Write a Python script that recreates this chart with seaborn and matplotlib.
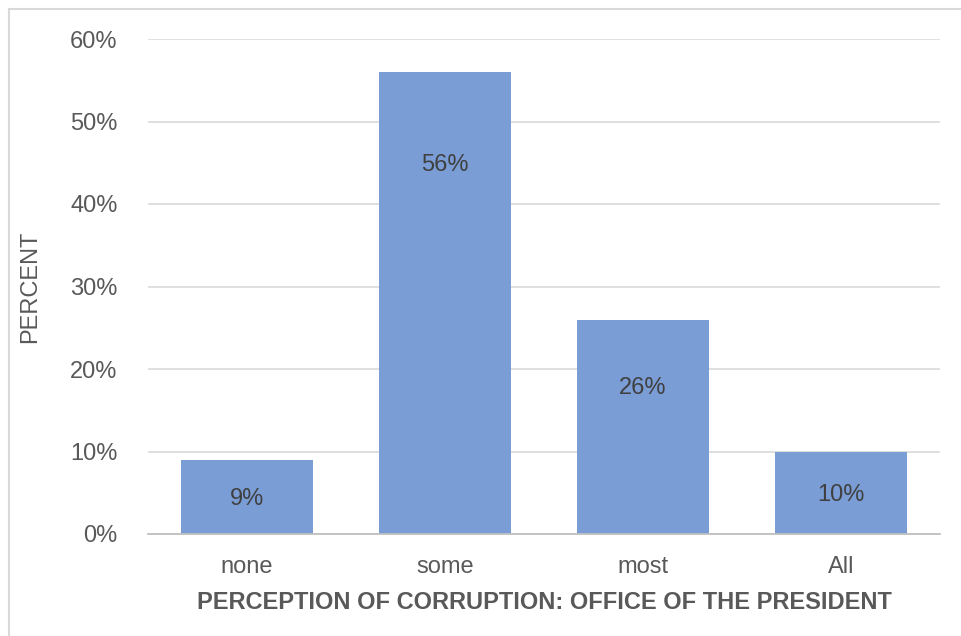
import matplotlib
matplotlib.use("Agg")
import matplotlib.pyplot as plt
import seaborn as sns
import pandas as pd
from matplotlib.patches import Rectangle

categories = ["none", "some", "most", "All"]
percent = [9, 56, 26, 10]
y_ticks = [0, 10, 20, 30, 40, 50, 60]
y_tick_labels = ["0%", "10%", "20%", "30%", "40%", "50%", "60%"]
label_drop = [4.8, 11.3, 8.3, 5.3]  # how far below bar top the data label sits

df = pd.DataFrame({"cat": categories, "pct": percent})

sns.set_theme(style="white")
plt.rcParams["font.family"] = ["Liberation Sans", "DejaVu Sans"]

fig = plt.figure(figsize=(9.61, 6.36), dpi=100)
ax = fig.add_axes([148/961, 1-534/636, (940-148)/961, (534-39)/636])

sns.barplot(data=df, x="cat", y="pct", color="#7A9DD6", saturation=1,
            width=0.667, ax=ax, order=categories, linewidth=0, edgecolor="none")

ax.set_xlim(-0.5, 3.5)
ax.set_ylim(0, 60)
ax.set_yticks(y_ticks)
ax.set_yticklabels(y_tick_labels)
ax.yaxis.grid(True, color="#D9D9D9", linewidth=1.2)
ax.set_axisbelow(True)
for s in ["top", "right", "left"]:
    ax.spines[s].set_visible(False)
ax.spines["bottom"].set_color("#BFBFBF")
ax.spines["bottom"].set_linewidth(1.3)
ax.tick_params(axis="both", length=0, labelsize=17, colors="#595959")
ax.tick_params(axis="y", pad=22)
ax.tick_params(axis="x", pad=16)

for i, (v, d) in enumerate(zip(percent, label_drop)):
    ax.text(i, v - d, f"{v}%", ha="center", va="center", fontsize=17, color="#404040")

ax.set_xlabel("PERCEPTION OF CORRUPTION: OFFICE OF THE PRESIDENT",
              fontsize=17, fontweight="bold", color="#595959", labelpad=9)
ax.set_ylabel("PERCENT", fontsize=17, color="#595959")
ax.yaxis.set_label_coords(-0.135, 0.5)

fig.patches.append(Rectangle((9/961, -0.1), 1.2, (636-9)/636 + 0.1, transform=fig.transFigure,
                             fill=False, edgecolor="#D9D9D9", linewidth=1.5))

fig.savefig("out.png", dpi=100)
